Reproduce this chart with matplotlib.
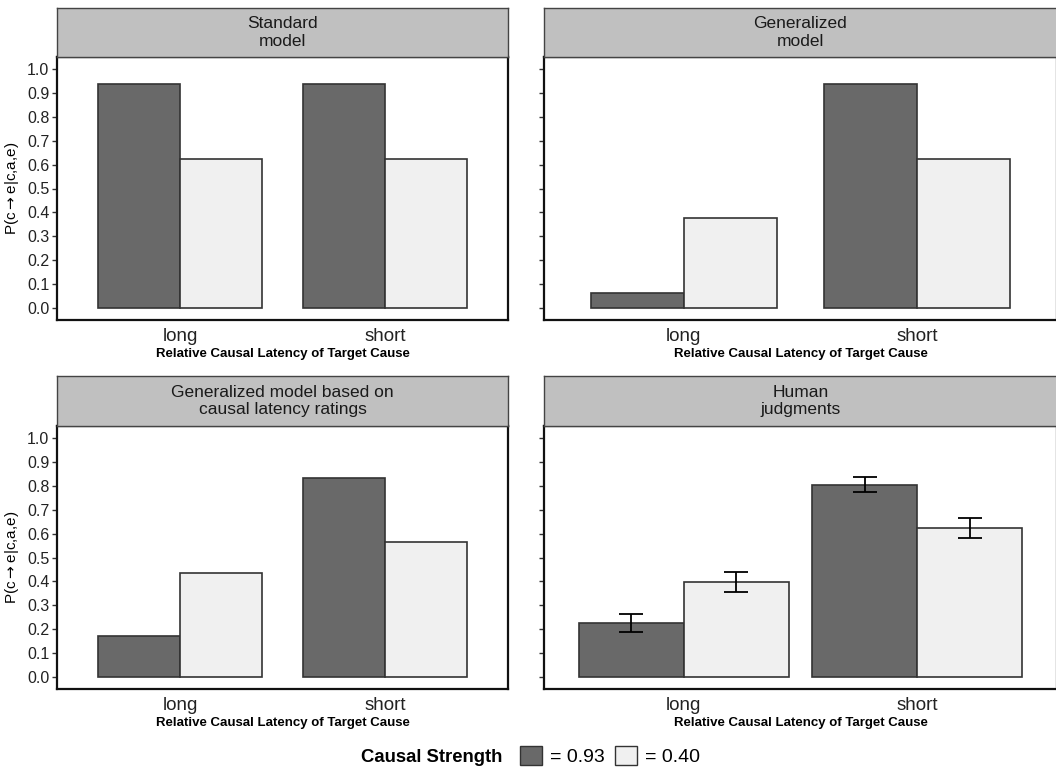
import matplotlib
matplotlib.use("Agg")
import matplotlib.pyplot as plt
from matplotlib.patches import Patch
import numpy as np

plt.rcParams['font.family'] = ['Liberation Sans', 'DejaVu Sans']

W, H = 1056, 768

categories = ["long", "short"]
strength_labels = ["= 0.93", "= 0.40"]
panel_titles = ["Standard\nmodel", "Generalized\nmodel",
                "Generalized model based on\ncausal latency ratings", "Human\njudgments"]

standard_093 = [0.9375, 0.9375]
standard_040 = [0.625, 0.625]
generalized_093 = [0.0625, 0.9375]
generalized_040 = [0.375, 0.625]
ratings_093 = [0.171, 0.832]
ratings_040 = [0.435, 0.565]
human_093 = [0.226, 0.805]
human_040 = [0.397, 0.624]
human_093_err = [0.037, 0.033]
human_040_err = [0.042, 0.043]

yticks = [round(0.1 * i, 1) for i in range(11)]
ytick_labels = [f"{v:.1f}" for v in yticks]

DARK = "#696969"
LIGHT = "#f0f0f0"
EDGE = "#333333"
STRIP = "#c0c0c0"

fig = plt.figure(figsize=(W / 100, H / 100), dpi=100)


def rect(l, t, r, b):
    return [l / W, 1 - b / H, (r - l) / W, (b - t) / H]


panels = [
    dict(box=(57, 57, 508, 320), strip=(57, 8, 508, 57), d=standard_093, l=standard_040,
         title=panel_titles[0], labels=True, width=0.8),
    dict(box=(544, 57, 1057, 320), strip=(544, 8, 1057, 57), d=generalized_093, l=generalized_040,
         title=panel_titles[1], labels=False, width=0.8),
    dict(box=(57, 426, 508, 689), strip=(57, 376, 508, 426), d=ratings_093, l=ratings_040,
         title=panel_titles[2], labels=True, width=0.8),
    dict(box=(544, 426, 1057, 689), strip=(544, 376, 1057, 426), d=human_093, l=human_040,
         title=panel_titles[3], labels=False, width=0.9,
         de=human_093_err, le=human_040_err),
]

for p in panels:
    ax = fig.add_axes(rect(*p["box"]))
    x = np.arange(len(categories)) + 1
    w = p["width"] / 2
    ax.bar(x - w / 2, p["d"], width=w, color=DARK, edgecolor=EDGE, linewidth=1.2, zorder=2)
    ax.bar(x + w / 2, p["l"], width=w, color=LIGHT, edgecolor=EDGE, linewidth=1.2, zorder=2)
    if "de" in p:
        ax.errorbar(x - w / 2, p["d"], yerr=p["de"], fmt="none", ecolor="black",
                    elinewidth=1.3, capsize=8.3, capthick=1.3, zorder=3)
        ax.errorbar(x + w / 2, p["l"], yerr=p["le"], fmt="none", ecolor="black",
                    elinewidth=1.3, capsize=8.3, capthick=1.3, zorder=3)
    ax.set_xlim(0.4, 2.6)
    ax.set_ylim(-0.05, 1.05)
    ax.set_xticks(x)
    ax.set_xticklabels(categories, fontsize=13.5)
    ax.tick_params(axis="x", length=0, pad=6, colors="#222222")
    ax.set_yticks(yticks)
    if p["labels"]:
        ax.set_yticklabels(ytick_labels, fontsize=11.5, color="#222222")
    else:
        ax.set_yticklabels([])
    ax.tick_params(axis="y", length=3.5, width=1, color="#333333", pad=2)
    for s in ax.spines.values():
        s.set_linewidth(1.6)
        s.set_color("#111111")
    ax.set_xlabel("Relative Causal Latency of Target Cause", fontsize=9.5,
                  fontweight="bold", labelpad=2)
    if p["labels"]:
        ax.set_ylabel("P(c$\\rightarrow$e|c,a,e)", fontsize=11, labelpad=4)

    sax = fig.add_axes(rect(*p["strip"]))
    sax.set_facecolor(STRIP)
    sax.set_xticks([])
    sax.set_yticks([])
    for s in sax.spines.values():
        s.set_linewidth(1.0)
        s.set_color("#444444")
    sax.text(0.5, 0.5, p["title"], ha="center", va="center", fontsize=12.5,
             color="#1a1a1a", linespacing=1.22, transform=sax.transAxes)

fig.text(502 / W, 1 - 757 / H, "Causal Strength", ha="right", va="center",
         fontsize=13.3, fontweight="bold")
handles = [Patch(facecolor=DARK, edgecolor=EDGE, linewidth=1.0),
           Patch(facecolor=LIGHT, edgecolor=EDGE, linewidth=1.0)]
fig.legend(handles, strength_labels, loc="center left",
           bbox_to_anchor=(520 / W, 1 - 756 / H), ncol=2, frameon=False,
           fontsize=14, handlelength=1.12, handleheight=1.12, handletextpad=0.4,
           columnspacing=0.55, borderpad=0, borderaxespad=0)

fig.savefig("out.png", dpi=100, facecolor="white")
